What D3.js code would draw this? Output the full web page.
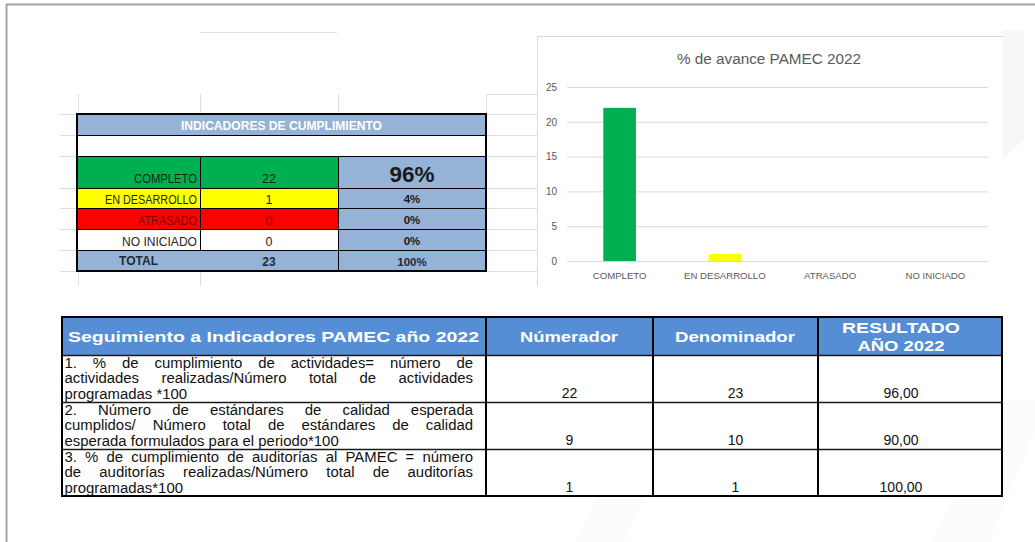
<!DOCTYPE html>
<html>
<head>
<meta charset="utf-8">
<script src="https://cdn.jsdelivr.net/npm/d3@7"></script>
<style>
html,body{margin:0;padding:0;background:#fff;}
svg{display:block;}
text{font-family:"Liberation Sans",Arial,sans-serif;}
</style>
</head>
<body>
<svg id="chart" width="1035" height="542"></svg>
<script>
// ---------- DATA ----------
const statusCategories = ["COMPLETO", "EN DESARROLLO", "ATRASADO", "NO INICIADO"];
const statusCounts = [22, 1, 0, 0];
const statusPercents = ["96%", "4%", "0%", "0%"];
const totalCount = 23;
const totalPercent = "100%";
const yTicks = [0, 5, 10, 15, 20, 25];
const chartTitle = "% de avance PAMEC 2022";
const summaryTitle = "INDICADORES DE CUMPLIMIENTO";

const trackingHeaders = ["Seguimiento a Indicadores PAMEC año 2022", "Númerador", "Denominador", ["RESULTADO", "AÑO 2022"]];
const indicatorLines = [
  ["1.   % de cumplimiento de actividades= número de", "actividades realizadas/Número total de actividades", "programadas *100"],
  ["2.   Número de estándares de calidad esperada", "cumplidos/ Número total de estándares de calidad", "esperada formulados para el periodo*100"],
  ["3.  % de cumplimiento de auditorías al PAMEC = número", "de auditorías realizadas/Número total de auditorías", "programadas*100"]
];
const numerators = [22, 9, 1];
const denominators = [23, 10, 1];
const results = ["96,00", "90,00", "100,00"];

// ---------- STYLES ----------
const statusFill = ["#00b050", "#ffff00", "#ff0000", "#ffffff"];
const statusText = ["#1b1b1b", "#262626", "#7a0000", "#262626"];
const labelWidths = [63, 92, 59, 75];
const tableBlue = "#95b3d7";

const svg = d3.select("#chart");

// outer frame
svg.append("line").attr("x1", 6).attr("x2", 1035).attr("y1", 4.5).attr("y2", 4.5).attr("stroke", "#a3a3a3").attr("stroke-width", 2);
svg.append("line").attr("x1", 6.5).attr("x2", 6.5).attr("y1", 4).attr("y2", 542).attr("stroke", "#a3a3a3").attr("stroke-width", 2);

// faint watermark shapes
const wm = svg.append("g");
wm.append("path").attr("d", "M1003,30 L1024,30 L1024,140 L1003,158 Z").attr("fill", "#f7f7f7");
wm.append("path").attr("d", "M575,542 L650,400 L690,400 L625,542 Z").attr("fill", "#fcfcfc");
wm.append("path").attr("d", "M930,542 L1005,400 L1035,400 L1035,430 L990,542 Z").attr("fill", "#fcfcfc");

// faint spreadsheet grid
const grid = svg.append("g").attr("stroke", "#dedede").attr("stroke-width", 1);
grid.append("line").attr("x1", 200).attr("x2", 337).attr("y1", 32.5).attr("y2", 32.5);
[78, 200, 338].forEach(x => grid.append("line").attr("x1", x + .5).attr("x2", x + .5).attr("y1", 94).attr("y2", 114));
[78, 200].forEach(x => grid.append("line").attr("x1", x + .5).attr("x2", x + .5).attr("y1", 271).attr("y2", 286));
grid.append("line").attr("x1", 486.5).attr("x2", 486.5).attr("y1", 94).attr("y2", 114);
grid.append("line").attr("x1", 486).attr("x2", 537).attr("y1", 94.5).attr("y2", 94.5);
[114, 135, 156, 188, 208, 229, 250, 271].forEach(y => {
  grid.append("line").attr("x1", 60).attr("x2", 77).attr("y1", y + .5).attr("y2", y + .5);
  grid.append("line").attr("x1", 486).attr("x2", 537).attr("y1", y + .5).attr("y2", y + .5);
});

// ---------- LEFT SUMMARY TABLE ----------
const tX = [77, 200, 338, 486];
const tY = [114, 135, 156, 188, 208, 229, 250, 271];
const st = svg.append("g");
st.append("rect").attr("x", tX[0]).attr("y", tY[0]).attr("width", tX[3] - tX[0]).attr("height", tY[1] - tY[0]).attr("fill", tableBlue);
st.append("text").attr("x", (tX[0] + tX[3]) / 2).attr("y", 130).attr("text-anchor", "middle")
  .attr("fill", "#fff").attr("font-weight", "bold").attr("font-size", 12).attr("textLength", 201).attr("lengthAdjust", "spacingAndGlyphs").text(summaryTitle);
st.append("rect").attr("x", tX[0]).attr("y", tY[1]).attr("width", tX[3] - tX[0]).attr("height", tY[2] - tY[1]).attr("fill", "#fff");
statusCategories.forEach((c, i) => {
  const y0 = tY[2 + i], y1 = tY[3 + i];
  const base = i === 0 ? y1 - 5.5 : y1 - 4.5;
  st.append("rect").attr("x", tX[0]).attr("y", y0).attr("width", tX[2] - tX[0]).attr("height", y1 - y0).attr("fill", statusFill[i]);
  st.append("rect").attr("x", tX[2]).attr("y", y0).attr("width", tX[3] - tX[2]).attr("height", y1 - y0).attr("fill", tableBlue);
  st.append("text").attr("x", tX[1] - 3 - labelWidths[i]).attr("y", base).attr("font-size", 12.5)
    .attr("textLength", labelWidths[i]).attr("lengthAdjust", "spacingAndGlyphs")
    .attr("fill", statusText[i]).text(c);
  st.append("text").attr("x", (tX[1] + tX[2]) / 2).attr("y", base).attr("text-anchor", "middle").attr("font-size", 12.5)
    .attr("fill", statusText[i]).text(statusCounts[i]);
  st.append("text").attr("x", (tX[2] + tX[3]) / 2).attr("y", i === 0 ? y1 - 6 : y1 - 5)
    .attr("text-anchor", "middle").attr("font-weight", "bold").attr("font-size", i === 0 ? 22.5 : 11.5)
    .attr("fill", "#1a1a1a").text(statusPercents[i]);
});
st.append("rect").attr("x", tX[0]).attr("y", tY[6]).attr("width", tX[3] - tX[0]).attr("height", tY[7] - tY[6]).attr("fill", tableBlue);
st.append("text").attr("x", 119).attr("y", 265).attr("font-weight", "bold").attr("font-size", 12.5).attr("textLength", 39).attr("lengthAdjust", "spacingAndGlyphs").attr("fill", "#1f2a36").text("TOTAL");
st.append("text").attr("x", (tX[1] + tX[2]) / 2).attr("y", 266).attr("text-anchor", "middle").attr("font-weight", "bold").attr("font-size", 12).attr("fill", "#1f2a36").text(totalCount);
st.append("text").attr("x", (tX[2] + tX[3]) / 2).attr("y", 266).attr("text-anchor", "middle").attr("font-weight", "bold").attr("font-size", 11.5).attr("fill", "#1f2a36").text(totalPercent);
const sl = st.append("g").attr("stroke", "#000");
[156, 188, 208, 229, 250].forEach(y => sl.append("line").attr("x1", tX[0]).attr("x2", tX[3]).attr("y1", y + .5).attr("y2", y + .5).attr("stroke-width", 1));
sl.append("line").attr("x1", tX[0]).attr("x2", tX[3]).attr("y1", 135.5).attr("y2", 135.5).attr("stroke-width", 1);
sl.append("line").attr("x1", tX[1] + .5).attr("x2", tX[1] + .5).attr("y1", 156).attr("y2", 250).attr("stroke-width", 1);
sl.append("line").attr("x1", tX[2] + .5).attr("x2", tX[2] + .5).attr("y1", 156).attr("y2", 271).attr("stroke-width", 1);
st.append("rect").attr("x", tX[0]).attr("y", tY[0]).attr("width", tX[3] - tX[0]).attr("height", tY[7] - tY[0])
  .attr("fill", "none").attr("stroke", "#000").attr("stroke-width", 2);

// ---------- BAR CHART ----------
const cg = svg.append("g");
cg.append("line").attr("x1", 537).attr("x2", 1003).attr("y1", 36.5).attr("y2", 36.5).attr("stroke", "#d9d9d9");
cg.append("line").attr("x1", 537.5).attr("x2", 537.5).attr("y1", 36).attr("y2", 286).attr("stroke", "#d9d9d9");
cg.append("text").attr("x", 769).attr("y", 64).attr("text-anchor", "middle").attr("font-size", 15.3)
  .attr("fill", "#595959").text(chartTitle);

const x = d3.scaleBand().domain(statusCategories).range([567, 988]).paddingInner(0.69).paddingOuter(0.345);
const y = d3.scaleLinear().domain([0, 25]).range([261, 87]);

const yAxis = cg.append("g").attr("transform", "translate(567,0)")
  .call(d3.axisLeft(y).tickValues(yTicks).tickSize(-421).tickPadding(10));
yAxis.select(".domain").remove();
yAxis.selectAll(".tick line").attr("stroke", "#d9d9d9");
yAxis.selectAll(".tick text").attr("fill", "#595959").attr("font-size", 10).attr("font-family", "'Liberation Sans',Arial,sans-serif");

const xAxis = cg.append("g").attr("transform", "translate(0,261)")
  .call(d3.axisBottom(x).tickSize(0).tickPadding(11));
xAxis.select(".domain").attr("stroke", "#d9d9d9");
xAxis.selectAll(".tick text").attr("fill", "#595959").attr("font-size", 9.6).attr("font-family", "'Liberation Sans',Arial,sans-serif");

cg.append("g").selectAll("rect").data(statusCategories).join("rect")
  .attr("x", d => x(d)).attr("width", x.bandwidth())
  .attr("y", (d, i) => y(statusCounts[i])).attr("height", (d, i) => y(0) - y(statusCounts[i]))
  .attr("fill", (d, i) => statusFill[i]);

// ---------- TRACKING TABLE ----------
const bX = [62, 486, 653, 818, 1002];
const bY = [317, 355, 402, 449, 496];
const bt = svg.append("g");
bt.append("rect").attr("x", bX[0]).attr("y", bY[0]).attr("width", bX[4] - bX[0]).attr("height", bY[1] - bY[0]).attr("fill", "#558ed5");
bt.append("rect").attr("x", bX[0]).attr("y", bY[1]).attr("width", bX[4] - bX[0]).attr("height", bY[4] - bY[1]).attr("fill", "#fff");

function hdr(t, xc, yb, len, anchor) {
  bt.append("text").attr("x", xc).attr("y", yb).attr("text-anchor", anchor || "middle").attr("fill", "#fff")
    .attr("font-weight", "bold").attr("font-size", 15.5).attr("textLength", len).attr("lengthAdjust", "spacingAndGlyphs").text(t);
}
hdr(trackingHeaders[0], 68, 341.5, 411, "start");
hdr(trackingHeaders[1], 569, 341.5, 98);
hdr(trackingHeaders[2], 735, 341.5, 120);
hdr(trackingHeaders[3][0], 901, 332.5, 118);
hdr(trackingHeaders[3][1], 901, 350.5, 87);

// justified indicator text
const tx0 = 64.5, tx1 = 473, sx = 1.08, bodySize = 13.8;
indicatorLines.forEach((lines, r) => {
  lines.forEach((line, li) => {
    const by = bY[1 + r] + 13 + li * 15.3;
    const g = bt.append("g");
    if (li === lines.length - 1) {
      g.append("text").attr("transform", `translate(${tx0},${by}) scale(${sx},1)`).attr("font-size", bodySize).attr("fill", "#111").text(line);
      return;
    }
    const words = line.split(/\s+/);
    const nodes = words.map(w => g.append("text").attr("font-size", bodySize).attr("fill", "#111").text(w));
    const widths = nodes.map(n => n.node().getComputedTextLength() * sx);
    const gap = (tx1 - tx0 - d3.sum(widths)) / (words.length - 1);
    let cx = tx0;
    nodes.forEach((n, k) => { n.attr("transform", `translate(${cx},${by}) scale(${sx},1)`); cx += widths[k] + gap; });
  });
  const base = bY[2 + r] - 4;
  bt.append("text").attr("x", (bX[1] + bX[2]) / 2).attr("y", base).attr("text-anchor", "middle").attr("font-size", 14).attr("fill", "#111").text(numerators[r]);
  bt.append("text").attr("x", (bX[2] + bX[3]) / 2).attr("y", base).attr("text-anchor", "middle").attr("font-size", 14).attr("fill", "#111").text(denominators[r]);
  bt.append("text").attr("x", 901).attr("y", base).attr("text-anchor", "middle").attr("font-size", 14).attr("fill", "#111").text(results[r]);
});

const bl = bt.append("g").attr("stroke", "#000");
[bY[1], bY[2], bY[3]].forEach(yv => bl.append("line").attr("x1", bX[0]).attr("x2", bX[4]).attr("y1", yv + .5).attr("y2", yv + .5).attr("stroke-width", 1.5).attr("stroke", "#1a1a1a"));
[bX[1], bX[2], bX[3]].forEach(xv => bl.append("line").attr("x1", xv).attr("x2", xv).attr("y1", bY[0]).attr("y2", bY[4]).attr("stroke-width", 2));
bt.append("rect").attr("x", bX[0]).attr("y", bY[0]).attr("width", bX[4] - bX[0]).attr("height", bY[4] - bY[0])
  .attr("fill", "none").attr("stroke", "#000").attr("stroke-width", 2);
</script>
</body>
</html>
